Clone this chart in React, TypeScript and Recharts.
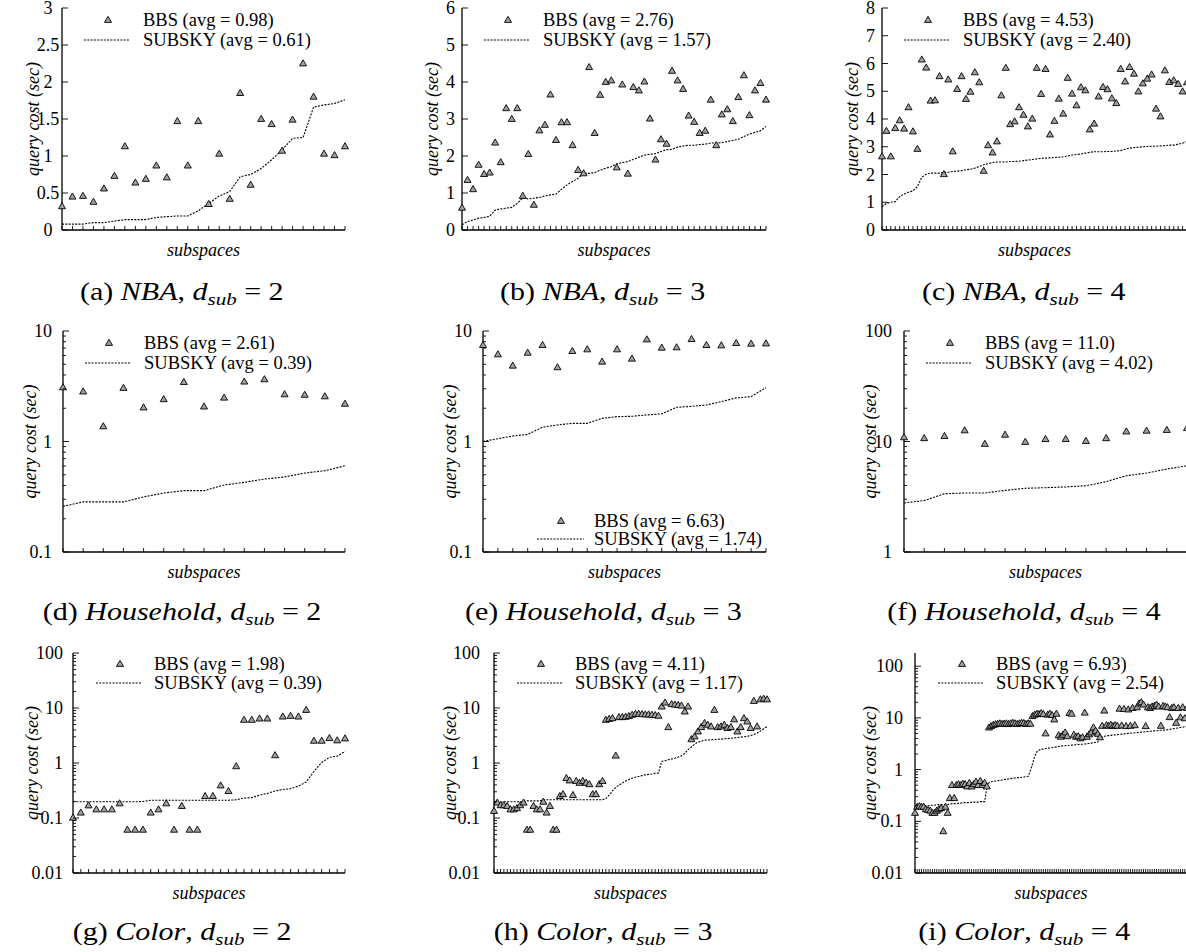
import React from "react";
import { ComposedChart, Line, Scatter, XAxis, YAxis } from "recharts";

const SERIF = "Liberation Serif, Times New Roman, Times, serif";

// NBA
const nbaBbs2 = [0.32, 0.45, 0.46, 0.38, 0.56, 0.73, 1.13, 0.64, 0.69, 0.87, 0.71, 1.47, 0.87, 1.47, 0.35, 1.03, 0.42, 1.85, 0.61, 1.5, 1.43, 1.07, 1.49, 2.25, 1.8, 1.03, 1.01, 1.13];
const nbaSubsky2 = [0.08, 0.08, 0.08, 0.1, 0.1, 0.12, 0.14, 0.14, 0.14, 0.17, 0.18, 0.19, 0.19, 0.26, 0.36, 0.46, 0.52, 0.72, 0.75, 0.83, 0.95, 1.08, 1.24, 1.25, 1.66, 1.69, 1.71, 1.76];
const nbaBbs3 = [0.6, 1.35, 1.1, 1.76, 1.51, 1.55, 2.36, 1.83, 3.29, 3.0, 3.29, 0.92, 2.05, 0.68, 2.69, 2.84, 3.66, 2.43, 2.91, 2.91, 2.29, 1.62, 1.53, 4.4, 2.62, 3.65, 4.0, 4.04, 1.69, 3.93, 1.52, 3.86, 3.77, 4.01, 3.01, 1.9, 2.45, 2.33, 4.3, 4.04, 3.81, 3.09, 2.92, 2.62, 2.68, 3.52, 2.29, 3.12, 3.26, 2.94, 3.59, 4.18, 3.1, 3.77, 3.97, 3.52];
const nbaSubsky3 = [0.14, 0.23, 0.27, 0.32, 0.34, 0.37, 0.54, 0.57, 0.59, 0.61, 0.72, 0.87, 0.84, 0.86, 0.88, 0.92, 0.95, 0.97, 1.1, 1.22, 1.31, 1.4, 1.53, 1.53, 1.55, 1.62, 1.67, 1.71, 1.79, 1.82, 1.85, 1.91, 1.97, 2.02, 2.05, 2.06, 2.12, 2.17, 2.18, 2.24, 2.27, 2.29, 2.29, 2.31, 2.32, 2.35, 2.35, 2.36, 2.39, 2.42, 2.45, 2.53, 2.59, 2.64, 2.68, 2.8];
const nbaBbs4 = [2.65, 3.57, 2.65, 3.67, 3.95, 3.65, 4.42, 3.55, 2.92, 6.14, 5.85, 4.66, 4.67, 5.54, 2.01, 5.42, 2.83, 5.08, 5.54, 4.72, 4.98, 5.68, 5.32, 2.13, 3.05, 2.79, 3.19, 4.85, 5.84, 3.81, 3.91, 4.42, 4.15, 3.73, 4.01, 5.84, 4.9, 5.8, 3.44, 3.93, 4.73, 4.19, 5.48, 4.91, 4.49, 5.14, 5.03, 3.62, 3.83, 4.81, 5.15, 5.07, 4.74, 4.57, 5.8, 5.35, 5.87, 5.63, 4.99, 5.28, 5.45, 5.6, 4.37, 4.09, 5.75, 5.33, 5.39, 5.26, 4.99, 5.32];
const nbaSubsky4 = [0.84, 0.96, 1.0, 1.02, 1.2, 1.3, 1.36, 1.41, 1.56, 1.9, 2.01, 2.05, 2.05, 2.05, 2.07, 2.08, 2.11, 2.12, 2.14, 2.17, 2.19, 2.23, 2.29, 2.35, 2.39, 2.43, 2.45, 2.45, 2.45, 2.47, 2.47, 2.48, 2.5, 2.52, 2.54, 2.56, 2.58, 2.59, 2.6, 2.61, 2.62, 2.64, 2.67, 2.7, 2.72, 2.74, 2.77, 2.8, 2.82, 2.82, 2.82, 2.83, 2.83, 2.85, 2.86, 2.91, 2.95, 2.97, 2.98, 3.0, 3.01, 3.02, 3.02, 3.03, 3.04, 3.06, 3.06, 3.09, 3.13, 3.19];

// Household
const hhBbs2 = [3.09, 2.83, 1.37, 3.05, 2.03, 2.41, 3.45, 2.07, 2.49, 3.48, 3.65, 2.67, 2.64, 2.56, 2.19];
const hhSubsky2 = [0.259, 0.284, 0.284, 0.284, 0.315, 0.342, 0.359, 0.359, 0.404, 0.427, 0.457, 0.477, 0.518, 0.544, 0.603];
const hhBbs3 = [7.45, 6.14, 4.85, 6.35, 7.45, 4.69, 6.58, 6.81, 5.27, 6.81, 5.61, 8.38, 7.05, 7.1, 8.44, 7.45, 7.4, 7.77, 7.66, 7.71];
const hhSubsky3 = [1.0, 1.06, 1.12, 1.16, 1.35, 1.41, 1.46, 1.46, 1.62, 1.68, 1.69, 1.74, 1.78, 2.04, 2.08, 2.14, 2.3, 2.48, 2.55, 3.07];
const hhBbs4 = [10.9, 10.7, 11.2, 12.6, 9.5, 11.5, 9.9, 10.5, 10.5, 10.1, 10.7, 12.3, 12.5, 12.7, 13.2];
const hhSubsky4 = [2.78, 2.92, 3.37, 3.42, 3.42, 3.61, 3.77, 3.82, 3.88, 3.98, 4.33, 4.9, 5.18, 5.63, 6.03];

// Color
const colorBbs2 = [0.101, 0.125, 0.169, 0.143, 0.143, 0.143, 0.184, 0.061, 0.061, 0.061, 0.125, 0.143, 0.184, 0.061, 0.165, 0.061, 0.061, 0.25, 0.25, 0.389, 0.308, 0.87, 6.07, 6.07, 6.41, 6.41, 1.38, 6.97, 7.17, 6.97, 9.2, 2.53, 2.53, 2.83, 2.57, 2.79];
const colorSubsky2 = [0.197, 0.197, 0.197, 0.197, 0.197, 0.197, 0.197, 0.197, 0.197, 0.2, 0.21, 0.21, 0.21, 0.21, 0.21, 0.21, 0.21, 0.21, 0.21, 0.21, 0.21, 0.215, 0.23, 0.235, 0.26, 0.28, 0.31, 0.33, 0.34, 0.38, 0.45, 0.7, 1.02, 1.27, 1.33, 1.62];
const colorBbs3 = [0.134, 0.19, 0.17, 0.17, 0.165, 0.143, 0.143, 0.15, 0.17, 0.19, 0.061, 0.061, 0.165, 0.143, 0.143, 0.197, 0.125, 0.165, 0.061, 0.061, 0.25, 0.27, 0.53, 0.48, 0.26, 0.47, 0.435, 0.47, 0.435, 0.41, 0.27, 0.27, 0.41, 0.47, 6.07, 6.3, 6.5, 1.36, 6.8, 6.8, 6.9, 7.1, 7.5, 7.8, 7.8, 7.7, 7.6, 7.6, 7.5, 7.4, 7.2, 10.6, 12.5, 4.47, 11.7, 11.5, 11.3, 11.0, 8.6, 10.6, 2.7, 3.03, 3.73, 4.47, 5.3, 4.93, 4.6, 9.2, 4.47, 4.6, 4.93, 4.3, 4.47, 6.2, 3.73, 4.47, 6.5, 5.66, 4.3, 13.4, 4.6, 14.3, 14.7, 14.3];
const colorSubsky3 = [0.19, 0.193, 0.195, 0.197, 0.197, 0.197, 0.197, 0.197, 0.197, 0.197, 0.205, 0.205, 0.205, 0.205, 0.205, 0.215, 0.215, 0.215, 0.215, 0.215, 0.215, 0.215, 0.215, 0.215, 0.215, 0.215, 0.215, 0.215, 0.215, 0.215, 0.215, 0.215, 0.215, 0.215, 0.225, 0.26, 0.31, 0.36, 0.4, 0.43, 0.47, 0.5, 0.53, 0.55, 0.57, 0.59, 0.61, 0.62, 0.63, 0.65, 0.66, 1.07, 1.1, 1.15, 1.18, 1.22, 1.28, 1.35, 1.5, 1.75, 1.95, 2.2, 2.4, 2.5, 2.6, 2.62, 2.65, 2.67, 2.7, 2.72, 2.75, 2.78, 2.82, 2.86, 2.9, 2.95, 3.0, 3.05, 3.15, 3.3, 3.5, 3.8, 4.2, 4.6];
const colorBbs4 = [0.145, 0.19, 0.195, 0.19, 0.19, 0.17, 0.165, 0.16, 0.145, 0.145, 0.16, 0.17, 0.18, 0.064, 0.19, 0.145, 0.28, 0.5, 0.28, 0.5, 0.52, 0.5, 0.53, 0.52, 0.47, 0.55, 0.47, 0.52, 0.58, 0.5, 0.6, 0.5, 0.55, 0.47, 6.5, 6.9, 7.3, 7.5, 7.6, 7.8, 7.6, 7.7, 7.8, 7.6, 7.8, 8.0, 7.8, 7.6, 7.8, 8.0, 7.9, 7.6, 7.8, 7.7, 10.8, 11.5, 12.0, 11.8, 12.3, 11.8, 5.0, 11.5, 12.0, 11.3, 9.3, 12.0, 4.6, 4.3, 4.7, 5.2, 4.4, 12.4, 12.0, 4.7, 4.3, 4.4, 4.0, 4.2, 12.6, 4.3, 4.8, 5.2, 6.5, 5.6, 4.9, 4.2, 7.0, 13.8, 7.2, 7.0, 7.3, 6.9, 7.2, 7.0, 15.0, 7.1, 14.8, 6.9, 14.5, 7.0, 15.5, 7.2, 16.0, 19.0, 20.0, 18.0, 6.9, 16.0, 15.5, 16.5, 17.0, 18.0, 16.5, 7.0, 17.0, 16.5, 16.0, 10.3, 15.5, 16.0, 8.0, 15.5, 10.2, 16.0, 9.8, 15.5];
const colorSubsky4 = [0.18, 0.19, 0.2, 0.2, 0.2, 0.2, 0.2, 0.2, 0.205, 0.205, 0.21, 0.21, 0.21, 0.21, 0.21, 0.21, 0.215, 0.22, 0.22, 0.22, 0.225, 0.225, 0.23, 0.23, 0.23, 0.23, 0.235, 0.235, 0.235, 0.235, 0.24, 0.24, 0.24, 0.45, 0.56, 0.58, 0.59, 0.6, 0.61, 0.62, 0.63, 0.64, 0.65, 0.66, 0.67, 0.68, 0.69, 0.7, 0.7, 0.71, 0.72, 0.73, 0.74, 0.95, 1.3, 1.8, 2.2, 2.4, 2.45, 2.5, 2.55, 2.6, 2.62, 2.65, 2.7, 2.75, 2.8, 2.85, 2.88, 2.9, 2.93, 2.95, 2.98, 3.0, 3.03, 3.05, 3.08, 3.1, 3.13, 3.15, 3.2, 3.25, 3.3, 3.35, 3.4, 4.2, 4.3, 4.4, 4.5, 4.55, 4.6, 4.65, 4.7, 4.75, 4.8, 4.85, 4.9, 4.95, 5.0, 5.05, 5.1, 5.15, 5.2, 5.25, 5.3, 5.35, 5.4, 5.45, 5.5, 5.55, 5.6, 5.65, 5.7, 5.75, 5.8, 5.85, 5.9, 6.0, 6.1, 6.2, 6.3, 6.4, 6.5, 6.6, 6.75, 6.9];

// tick labels
const ticksNba2 = [0, 0.5, 1, 1.5, 2, 2.5, 3];
const ticksNba3 = [0, 1, 2, 3, 4, 5, 6];
const ticksNba4 = [0, 1, 2, 3, 4, 5, 6, 7, 8];
const ticksHh23 = [0.1, 1, 10];
const ticksHh4 = [1, 10, 100];
const ticksColor = [0.01, 0.1, 1, 10, 100];

type LegendPos = { tri: number; x1: number; x2: number; text: number; r1: number; r2: number; bottom?: boolean };

type Spec = {
  bbs: number[];
  subsky: number[];
  left: number;
  right: number;
  top: number;
  bottom: number;
  log: boolean;
  domain: [number, number];
  major: number[];
  labelGap: number;
  tickGap: number;
  tickAnchor: "end" | "middle";
  avg: [string, string];
  legend: LegendPos;
  cap: [string, string, string];
  cx: number;
  cy: number;
};

const legTop: LegendPos = { tri: 46, x1: 22, x2: 67, text: 81, r1: 12, r2: 32 };
const legTop3: LegendPos = { tri: 47, x1: 23, x2: 69, text: 81, r1: 11, r2: 30 };
const legBottom: LegendPos = { tri: 78, x1: 54, x2: 101, text: 111, r1: -31, r2: -13, bottom: true };

const panels: Spec[] = [
  { bbs: nbaBbs2, subsky: nbaSubsky2, left: 62, right: 345, top: 8, bottom: 230, log: false, domain: [0, 3], major: ticksNba2, labelGap: 29, tickGap: 14, tickAnchor: "middle", avg: ["0.98", "0.61"], legend: legTop, cap: ["(a)", "NBA", "2"], cx: 182, cy: 292 },
  { bbs: nbaBbs3, subsky: nbaSubsky3, left: 462, right: 766, top: 8, bottom: 230, log: false, domain: [0, 6], major: ticksNba3, labelGap: 30, tickGap: 7, tickAnchor: "end", avg: ["2.76", "1.57"], legend: legTop, cap: ["(b)", "NBA", "3"], cx: 603, cy: 292 },
  { bbs: nbaBbs4, subsky: nbaSubsky4, left: 882, right: 1187, top: 8, bottom: 230, log: false, domain: [0, 8], major: ticksNba4, labelGap: 30, tickGap: 7, tickAnchor: "end", avg: ["4.53", "2.40"], legend: legTop, cap: ["(c)", "NBA", "4"], cx: 1024, cy: 292 },
  { bbs: hhBbs2, subsky: hhSubsky2, left: 63, right: 345, top: 331, bottom: 552, log: true, domain: [0.1, 10], major: ticksHh23, labelGap: 33, tickGap: 11, tickAnchor: "end", avg: ["2.61", "0.39"], legend: legTop, cap: ["(d)", "Household", "2"], cx: 182, cy: 612 },
  { bbs: hhBbs3, subsky: hhSubsky3, left: 483, right: 766, top: 331, bottom: 552, log: true, domain: [0.1, 10], major: ticksHh23, labelGap: 33, tickGap: 11, tickAnchor: "end", avg: ["6.63", "1.74"], legend: legBottom, cap: ["(e)", "Household", "3"], cx: 603, cy: 612 },
  { bbs: hhBbs4, subsky: hhSubsky4, left: 904, right: 1187, top: 331, bottom: 552, log: true, domain: [1, 100], major: ticksHh4, labelGap: 34, tickGap: 12, tickAnchor: "end", avg: ["11.0", "4.02"], legend: legTop, cap: ["(f)", "Household", "4"], cx: 1024, cy: 612 },
  { bbs: colorBbs2, subsky: colorSubsky2, left: 73, right: 345, top: 653, bottom: 873, log: true, domain: [0.01, 100], major: ticksColor, labelGap: 41, tickGap: 10, tickAnchor: "end", avg: ["1.98", "0.39"], legend: legTop3, cap: ["(g)", "Color", "2"], cx: 182, cy: 932 },
  { bbs: colorBbs3, subsky: colorSubsky3, left: 494, right: 767, top: 653, bottom: 873, log: true, domain: [0.01, 100], major: ticksColor, labelGap: 44, tickGap: 14, tickAnchor: "end", avg: ["4.11", "1.17"], legend: legTop3, cap: ["(h)", "Color", "3"], cx: 603, cy: 932 },
  { bbs: colorBbs4, subsky: colorSubsky4, left: 915, right: 1187, top: 653, bottom: 873, log: true, domain: [0.01, 180], major: ticksColor, labelGap: 45, tickGap: 12, tickAnchor: "end", avg: ["6.93", "2.54"], legend: legTop3, cap: ["(i)", "Color", "4"], cx: 1024, cy: 932 },
];

function withMinor(major: number[], max: number) {
  const out: number[] = [];
  major.forEach((m) => {
    out.push(m);
    for (let k = 2; k <= 9; k++) if (m * k <= max) out.push(m * k);
  });
  return out;
}

const Tri = (props: any) => {
  const { cx, cy } = props;
  if (cx == null || cy == null) return <g />;
  return (
    <polygon
      points={`${cx},${cy - 3.7} ${cx - 3.5},${cy + 2.4} ${cx + 3.5},${cy + 2.4}`}
      fill="#a0a0a0"
      stroke="#000"
      strokeWidth={0.9}
    />
  );
};

const DASH = "2 1.3";

function Panel({ p }: { p: Spec }) {
  const n = p.bbs.length;
  const data = p.bbs.map((v, i) => ({ i, bbs: v, subsky: p.subsky[i] }));
  const xTicks = data.map((d) => d.i);
  const yTicks = p.log ? withMinor(p.major, p.domain[1]) : p.major;
  const majorSet = new Set(p.major);
  const yw = p.labelGap * 2;
  const mt = 16;
  const mr = 6;
  const xh = 40;
  const plotW = p.right - p.left;
  const plotH = p.bottom - p.top;
  const W = yw + plotW + mr;
  const H = mt + plotH + xh;
  const axisLine = { stroke: "#000", strokeWidth: 1.3 };
  const scale = p.log ? "log" : "linear";

  const bottomTick = (t: any) => (
    <line x1={t.x} x2={t.x} y1={t.y} y2={t.y - 4} stroke="#000" strokeWidth={0.9} />
  );
  const topTick = (t: any) => (
    <line x1={t.x} x2={t.x} y1={t.y} y2={t.y + 4} stroke="#000" strokeWidth={0.9} />
  );
  const leftTick = (t: any) => {
    const v = t.payload.value;
    const major = majorSet.has(v);
    return (
      <g>
        <line x1={t.x} x2={t.x + (major ? 6 : 3)} y1={t.y} y2={t.y} stroke="#000" strokeWidth={0.9} />
        {major && (
          <text
            x={t.x - p.tickGap}
            y={t.y}
            textAnchor={p.tickAnchor}
            dominantBaseline="central"
            fontFamily={SERIF}
            fontSize={18}
            fill="#000"
          >
            {String(v)}
          </text>
        )}
      </g>
    );
  };
  const rightTick = (t: any) => {
    const major = majorSet.has(t.payload.value);
    return <line x1={t.x} x2={t.x - (major ? 6 : 3)} y1={t.y} y2={t.y} stroke="#000" strokeWidth={0.9} />;
  };

  const lg = p.legend;
  const r1 = lg.bottom ? plotH + lg.r1 : lg.r1;
  const r2 = lg.bottom ? plotH + lg.r2 : lg.r2;

  return (
    <>
      <div style={{ position: "absolute", left: p.left - yw, top: p.top - mt }}>
        <ComposedChart width={W} height={H} data={data} margin={{ top: mt, right: mr, bottom: 0, left: 0 }}>
          <XAxis
            dataKey="i"
            type="number"
            domain={[0, n - 1]}
            ticks={xTicks}
            interval={0}
            height={xh}
            tickSize={0}
            tickMargin={0}
            tickLine={false}
            axisLine={axisLine}
            tick={bottomTick}
            label={{ value: "subspaces", position: "center", style: { fontFamily: SERIF, fontStyle: "italic", fontSize: 18, fill: "#000" } }}
          />
          <XAxis
            xAxisId="top"
            orientation="top"
            dataKey="i"
            type="number"
            domain={[0, n - 1]}
            ticks={xTicks}
            interval={0}
            height={0}
            tickSize={0}
            tickMargin={0}
            tickLine={false}
            axisLine={axisLine}
            tick={topTick}
            allowDataOverflow
          />
          <YAxis
            type="number"
            scale={scale}
            domain={p.domain}
            ticks={yTicks}
            interval={0}
            width={yw}
            tickSize={0}
            tickMargin={0}
            tickLine={false}
            axisLine={axisLine}
            tick={leftTick}
            label={{ value: "query cost (sec)", angle: -90, position: "center", style: { fontFamily: SERIF, fontStyle: "italic", fontSize: 18, fill: "#000" } }}
          />
          <YAxis
            yAxisId="right"
            orientation="right"
            type="number"
            scale={scale}
            domain={p.domain}
            ticks={yTicks}
            interval={0}
            width={0}
            tickSize={0}
            tickMargin={0}
            tickLine={false}
            axisLine={axisLine}
            tick={rightTick}
            allowDataOverflow
          />
          <Line
            type="linear"
            dataKey="subsky"
            stroke="#000"
            strokeWidth={1.1}
            strokeDasharray={DASH}
            dot={false}
            activeDot={false}
            isAnimationActive={false}
          />
          <Scatter dataKey="bbs" shape={Tri} isAnimationActive={false} />
        </ComposedChart>
      </div>
      <svg
        style={{ position: "absolute", left: p.left, top: p.top, overflow: "visible", pointerEvents: "none" }}
        width={plotW}
        height={plotH}
      >
        <Tri cx={lg.tri} cy={r1} />
        <line x1={lg.x1} x2={lg.x2} y1={r2} y2={r2} stroke="#000" strokeWidth={1.1} strokeDasharray={DASH} />
        <text x={lg.text} y={r1} dominantBaseline="central" fontFamily={SERIF} fontSize={18.5} fill="#000">
          {`BBS (avg = ${p.avg[0]})`}
        </text>
        <text x={lg.text} y={r2} dominantBaseline="central" fontFamily={SERIF} fontSize={18.5} fill="#000">
          {`SUBSKY (avg = ${p.avg[1]})`}
        </text>
      </svg>
      <div
        style={{
          position: "absolute",
          left: p.cx - 250,
          width: 500,
          top: p.cy - 16,
          height: 32,
          lineHeight: "32px",
          textAlign: "center",
          fontFamily: SERIF,
          fontSize: 25,
          whiteSpace: "nowrap",
          color: "#000",
        }}
      >
        <span style={{ display: "inline-block", transform: "scaleX(1.2)" }}>
          {p.cap[0]} <i>{p.cap[1]}</i>, <i>d</i>
          <i style={{ fontSize: "0.7em", position: "relative", top: "0.3em" }}>sub</i> = {p.cap[2]}
        </span>
      </div>
    </>
  );
}

export default function App() {
  return (
    <div
      style={{
        position: "absolute",
        left: 0,
        top: 0,
        width: 1186,
        height: 952,
        overflow: "hidden",
        background: "#fff",
      }}
    >
      {panels.map((p, k) => (
        <Panel key={k} p={p} />
      ))}
    </div>
  );
}
